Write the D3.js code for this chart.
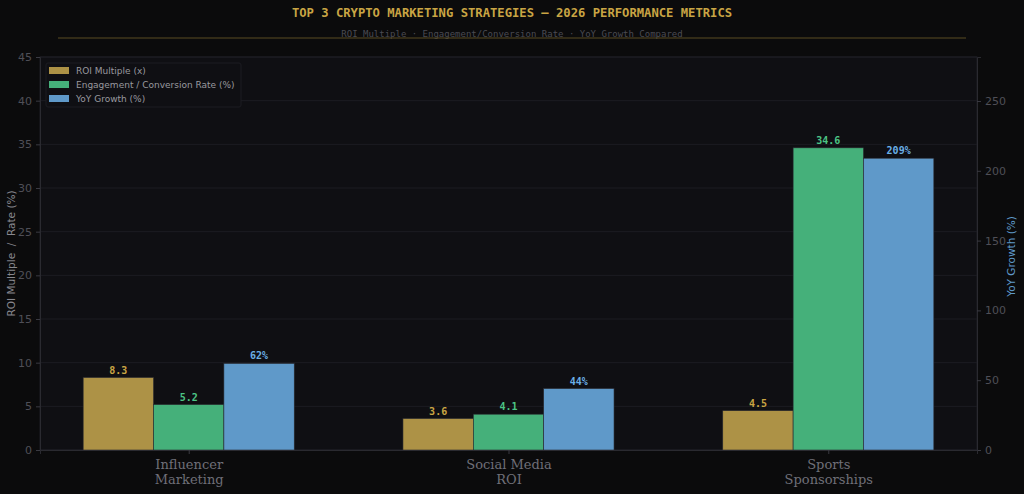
<!DOCTYPE html>
<html>
<head>
<meta charset="utf-8">
<script src="https://cdn.jsdelivr.net/npm/d3@7"></script>
<style>
  body { margin: 0; background: #0b0b0c; }
  svg { display: block; }
</style>
</head>
<body>
<div id="chart"></div>
<script>
// data
const categories = [["Influencer", "Marketing"], ["Social Media", "ROI"], ["Sports", "Sponsorships"]];
const roi = [8.3, 3.6, 4.5];
const engagement = [5.2, 4.1, 34.6];
const growth = [62, 44, 209];
const leftTicks = [0, 5, 10, 15, 20, 25, 30, 35, 40, 45];
const rightTicks = [0, 50, 100, 150, 200, 250];

const width = 1024, height = 494;
const margin = { top: 57, bottom: 44, left: 40, right: 47 };
const innerW = width - margin.left - margin.right;
const innerH = height - margin.top - margin.bottom;

const gold = "#ad9246", green = "#45b07a", blue = "#5f99c9";

const svg = d3.select("#chart").append("svg")
  .attr("width", width).attr("height", height);

svg.append("rect").attr("width", width).attr("height", height).attr("fill", "#0b0b0c");

// title
svg.append("text")
  .attr("x", 512).attr("y", 17)
  .attr("text-anchor", "middle")
  .attr("font-family", "DejaVu Sans Mono")
  .attr("font-weight", "bold")
  .attr("font-size", 12.2)
  .attr("fill", "#c9a544")
  .text("TOP 3 CRYPTO MARKETING STRATEGIES \u2014 2026 PERFORMANCE METRICS");

svg.append("text")
  .attr("x", 512).attr("y", 37)
  .attr("text-anchor", "middle")
  .attr("font-family", "DejaVu Sans Mono")
  .attr("font-size", 9)
  .attr("fill", "#4a4a52")
  .text("ROI Multiple \u00b7 Engagement/Conversion Rate \u00b7 YoY Growth Compared");

svg.append("line")
  .attr("x1", 58).attr("x2", 966).attr("y1", 38).attr("y2", 38)
  .attr("stroke", "#5a4c22").attr("stroke-width", 1);

const g = svg.append("g").attr("transform", `translate(${margin.left},${margin.top})`);

g.append("rect").attr("width", innerW).attr("height", innerH).attr("fill", "#0f0f13");

// scales
const x = d3.scaleLinear().domain([-0.465, 2.465]).range([0, innerW]);
const yL = d3.scaleLinear().domain([0, 45]).range([innerH, 0]);
const yR = d3.scaleLinear().domain([0, 281.5]).range([innerH, 0]);
const bw = 0.22;

// grid
g.selectAll(".grid").data(leftTicks).join("line")
  .attr("x1", 0).attr("x2", innerW)
  .attr("y1", d => yL(d)).attr("y2", d => yL(d))
  .attr("stroke", "#1c1c22").attr("stroke-width", 1);

// frame
g.append("rect").attr("width", innerW).attr("height", innerH)
  .attr("fill", "none").attr("stroke", "#1e1e24");

// bars
const series = [
  { vals: roi, off: -1, col: gold, scale: yL, lab: "#c9a544", fmt: d => d.toFixed(1) },
  { vals: engagement, off: 0, col: green, scale: yL, lab: "#4cc485", fmt: d => d.toFixed(1) },
  { vals: growth, off: 1, col: blue, scale: yR, lab: "#6aaee6", fmt: d => d + "%" }
];

series.forEach(s => {
  g.selectAll(null).data(s.vals).join("rect")
    .attr("x", (d, i) => x(i + s.off * bw - bw / 2))
    .attr("width", x(bw) - x(0))
    .attr("y", d => s.scale(d))
    .attr("height", d => innerH - s.scale(d))
    .attr("fill", s.col)
    .attr("stroke", "#2a2a30").attr("stroke-width", 0.6);
  g.selectAll(null).data(s.vals).join("text")
    .attr("x", (d, i) => x(i + s.off * bw))
    .attr("y", d => s.scale(d) - 4)
    .attr("text-anchor", "middle")
    .attr("font-family", "DejaVu Sans Mono")
    .attr("font-weight", "bold")
    .attr("font-size", 10)
    .attr("fill", s.lab)
    .text(s.fmt);
});

// left axis
const axL = g.append("g").call(d3.axisLeft(yL).tickValues(leftTicks).tickSize(4).tickPadding(4));
axL.select(".domain").attr("stroke", "#2a2a30");
axL.selectAll(".tick line").attr("stroke", "#3a3a42");
axL.selectAll(".tick text").attr("fill", "#4f4f57").attr("font-size", 11).attr("font-family", "DejaVu Sans");

// right axis
const axR = g.append("g").attr("transform", `translate(${innerW},0)`)
  .call(d3.axisRight(yR).tickValues(rightTicks).tickSize(4).tickPadding(4));
axR.select(".domain").attr("stroke", "#2a2a30");
axR.selectAll(".tick line").attr("stroke", "#3a3a42");
axR.selectAll(".tick text").attr("fill", "#4f4f57").attr("font-size", 11).attr("font-family", "DejaVu Sans");

// bottom axis
const axB = g.append("g").attr("transform", `translate(0,${innerH})`)
  .call(d3.axisBottom(x).tickValues([0, 1, 2]).tickSize(4).tickFormat(""));
axB.select(".domain").attr("stroke", "#2a2a30");
axB.selectAll(".tick line").attr("stroke", "#3a3a42");
axB.selectAll(".tick").append("text")
  .attr("fill", "#6f6f78")
  .attr("font-family", "DejaVu Serif")
  .attr("font-size", 13)
  .attr("text-anchor", "middle")
  .selectAll("tspan").data((d, i) => categories[i]).join("tspan")
  .attr("x", 0).attr("y", (d, i) => 19 + i * 15)
  .text(d => d);

// axis labels
svg.append("text")
  .attr("transform", `translate(15,${margin.top + innerH / 2}) rotate(-90)`)
  .attr("text-anchor", "middle")
  .style("white-space", "pre")
  .attr("font-family", "DejaVu Sans").attr("font-size", 10.5)
  .attr("fill", "#88888f")
  .text("ROI Multiple  /  Rate (%)");

svg.append("text")
  .attr("transform", `translate(1015,${margin.top + innerH / 2 + 3}) rotate(-90)`)
  .attr("text-anchor", "middle")
  .attr("font-family", "DejaVu Sans").attr("font-size", 10.5)
  .attr("fill", "#5f99c9")
  .text("YoY Growth (%)");

// legend
const legendItems = [
  ["ROI Multiple (x)", gold],
  ["Engagement / Conversion Rate (%)", green],
  ["YoY Growth (%)", blue]
];
const lg = svg.append("g").attr("transform", "translate(46,63)");
lg.append("rect").attr("width", 195).attr("height", 44).attr("rx", 2)
  .attr("fill", "#0f0f13").attr("stroke", "#1c1c22");
legendItems.forEach((it, i) => {
  lg.append("rect").attr("x", 3).attr("y", 4 + i * 14).attr("width", 20).attr("height", 7).attr("fill", it[1]);
  lg.append("text").attr("x", 30).attr("y", 11 + i * 14)
    .attr("font-family", "DejaVu Sans").attr("font-size", 9)
    .attr("fill", "#99999f").text(it[0]);
});
</script>
</body>
</html>
